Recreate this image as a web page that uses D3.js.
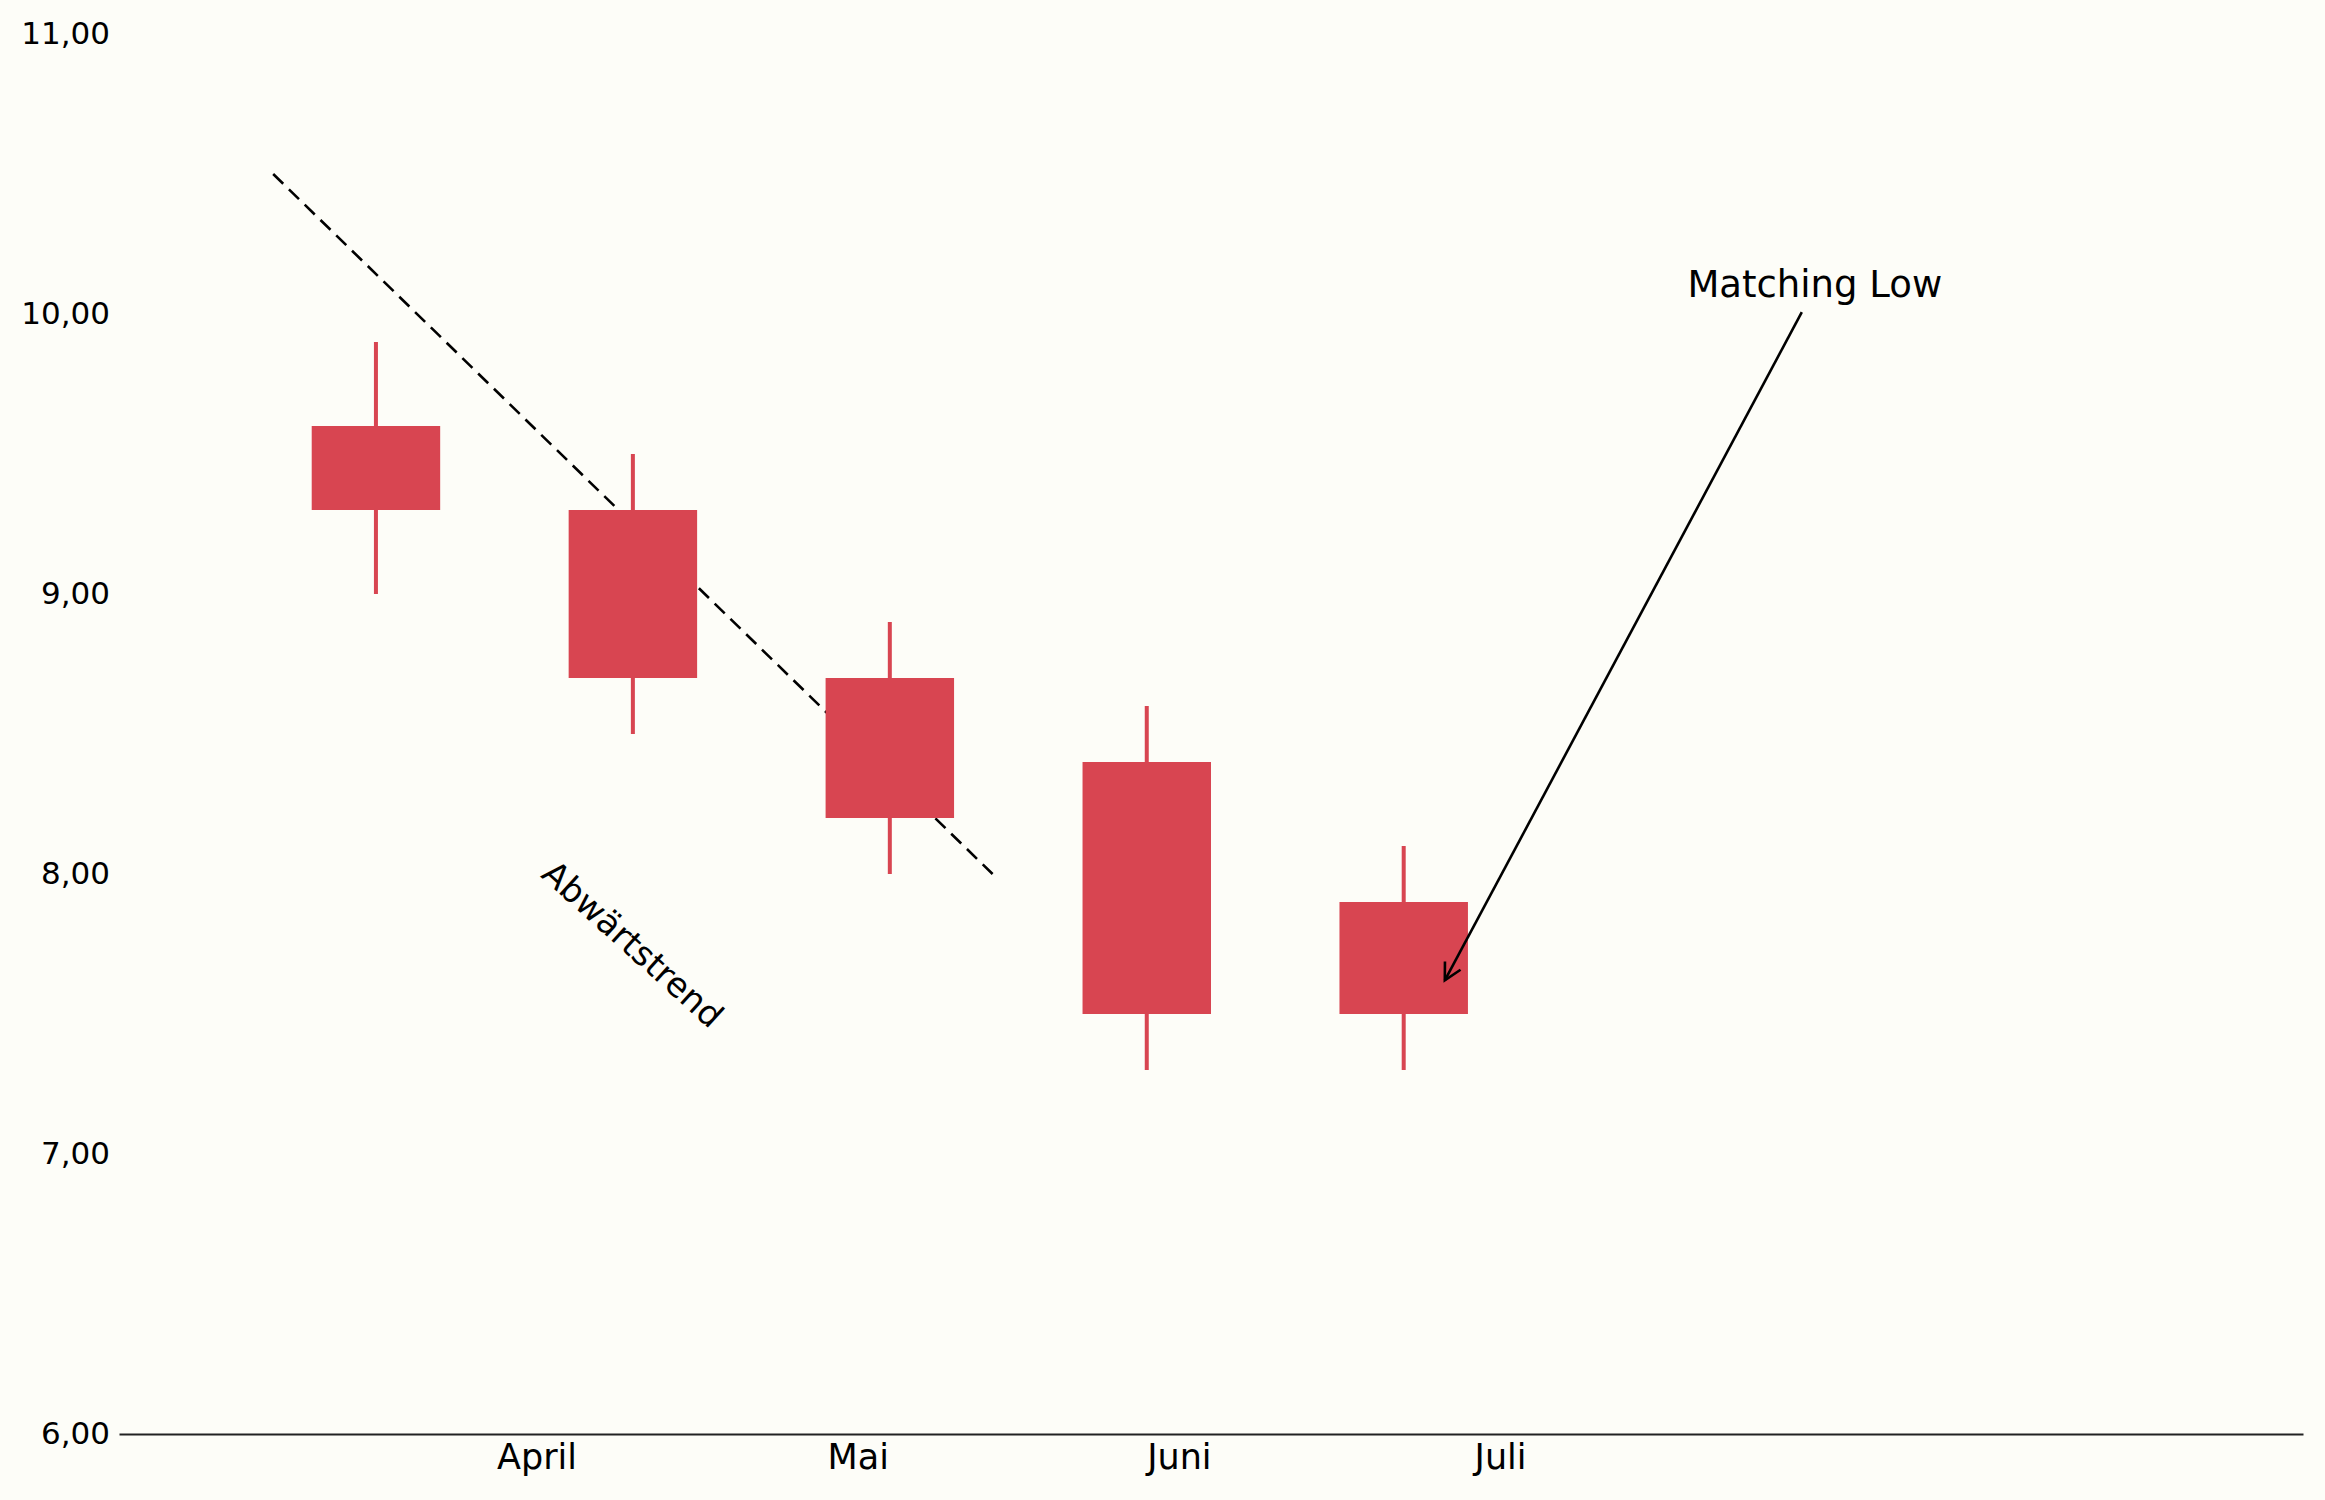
<!DOCTYPE html>
<html>
<head>
<meta charset="utf-8">
<script src="https://cdn.jsdelivr.net/npm/d3@7"></script>
<style>
  html, body { margin: 0; padding: 0; background: #fdfdf8; }
  svg { display: block; }
  text { font-family: "DejaVu Sans", sans-serif; fill: #000; }
</style>
</head>
<body>
<svg id="chart" width="2325" height="1500"></svg>
<script>
// ---- data ----
const candleIndex = [0, 1, 2, 3, 4];
const openVals  = [9.6, 9.3, 8.7, 8.4, 7.9];
const highVals  = [9.9, 9.5, 8.9, 8.6, 8.1];
const lowVals   = [9.0, 8.5, 8.0, 7.3, 7.3];
const closeVals = [9.3, 8.7, 8.2, 7.5, 7.5];

const monthTickPos = [0.625, 1.875, 3.125, 4.375];
const monthLabels = ["April", "Mai", "Juni", "Juli"];
const yTickValues = [6, 7, 8, 9, 10, 11];

const trendX = [-0.4, 2.4];
const trendY = [10.5, 8.0];
const trendLabel = "Abwärtstrend";
const trendLabelPos = [1.0, 7.75];

const annoLabel = "Matching Low";
const annoTextPos = [5.6, 10.06];
const annoTip = [4.16, 7.62];

// ---- layout ----
const W = 2325, H = 1500;
const svg = d3.select("#chart");
svg.append("rect").attr("width", W).attr("height", H).attr("fill", "#fdfdf8");

const x = d3.scaleLinear().domain([-1, 7.5]).range([119, 2303]);
const y = d3.scaleLinear().domain([6, 11]).range([1434, 34]);

const locale = d3.formatLocale({decimal: ",", thousands: ".", grouping: [3], currency: ["", "€"]});
const fmt = locale.format(".2f");

// trend line (drawn below candles)
svg.append("line")
  .attr("x1", x(trendX[0])).attr("y1", y(trendY[0]))
  .attr("x2", x(trendX[1])).attr("y2", y(trendY[1]))
  .attr("stroke", "#000").attr("stroke-width", 2.6)
  .attr("stroke-dasharray", "14,8");

// candles
const red = "#d84551";
const data = candleIndex.map((d, i) => ({i: d, o: openVals[i], h: highVals[i], l: lowVals[i], c: closeVals[i]}));
const bw = x(0.25) - x(-0.25);
const g = svg.append("g");
g.selectAll("line.wick").data(data).join("line")
  .attr("class", "wick")
  .attr("x1", d => x(d.i)).attr("x2", d => x(d.i))
  .attr("y1", d => y(d.h)).attr("y2", d => y(d.l))
  .attr("stroke", red).attr("stroke-width", 4);
g.selectAll("rect.body").data(data).join("rect")
  .attr("class", "body")
  .attr("x", d => x(d.i) - bw / 2)
  .attr("width", bw)
  .attr("y", d => y(Math.max(d.o, d.c)))
  .attr("height", d => y(Math.min(d.o, d.c)) - y(Math.max(d.o, d.c)))
  .attr("fill", red);

// y axis (labels only)
const yAxis = d3.axisLeft(y).tickValues(yTickValues).tickFormat(fmt).tickSize(0).tickPadding(9);
const yg = svg.append("g").attr("transform", `translate(${x(-1)},0)`).call(yAxis);
yg.select(".domain").remove();
yg.selectAll("text").attr("font-size", 31).attr("font-family", "DejaVu Sans, sans-serif").attr("fill", "#000");

// x axis
const xAxis = d3.axisBottom(x).tickValues(monthTickPos).tickFormat((d, i) => monthLabels[i]).tickSize(0).tickPadding(10);
const xg = svg.append("g").attr("transform", `translate(0,${y(6)})`).call(xAxis);
xg.select(".domain").attr("stroke", "#222").attr("stroke-width", 2);
xg.selectAll("text").attr("font-size", 35).attr("font-family", "DejaVu Sans, sans-serif").attr("fill", "#000");

// trend label
svg.append("text")
  .attr("transform", `translate(${x(trendLabelPos[0])},${y(trendLabelPos[1])}) rotate(42)`)
  .attr("text-anchor", "middle").attr("dominant-baseline", "central")
  .attr("font-size", 34)
  .text(trendLabel);

// annotation
svg.append("text")
  .attr("x", x(annoTextPos[0])).attr("y", y(annoTextPos[1]))
  .attr("text-anchor", "middle")
  .attr("font-size", 37)
  .text(annoLabel);

const sx = x(annoTextPos[0]) - 13, sy = y(annoTextPos[1]) + 15;
const tx = x(annoTip[0]), ty = y(annoTip[1]);
svg.append("line")
  .attr("x1", sx).attr("y1", sy).attr("x2", tx).attr("y2", ty)
  .attr("stroke", "#000").attr("stroke-width", 2.6);
const ang = Math.atan2(ty - sy, tx - sx);
const hl = 19, ha = Math.PI / 6.5;
const p1 = [tx - hl * Math.cos(ang - ha), ty - hl * Math.sin(ang - ha)];
const p2 = [tx - hl * Math.cos(ang + ha), ty - hl * Math.sin(ang + ha)];
svg.append("path")
  .attr("d", `M${p1[0]},${p1[1]} L${tx},${ty} L${p2[0]},${p2[1]}`)
  .attr("fill", "none").attr("stroke", "#000").attr("stroke-width", 2.6);
</script>
</body>
</html>
